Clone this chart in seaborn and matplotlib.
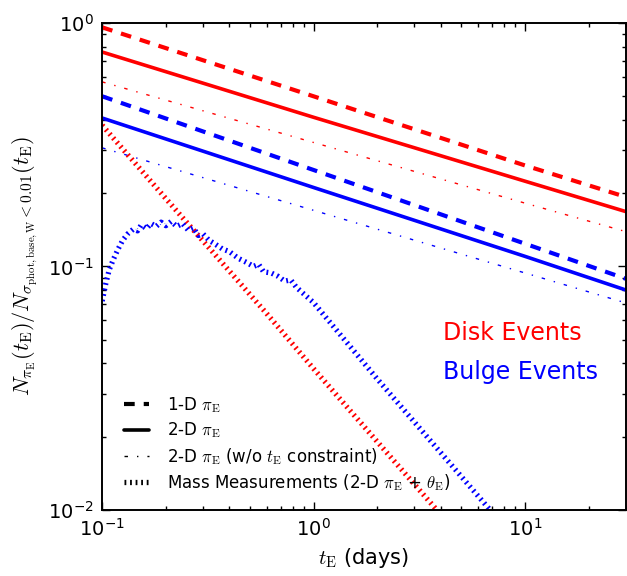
import numpy as np
import pandas as pd
import matplotlib
matplotlib.use('Agg')
import matplotlib.pyplot as plt
import seaborn as sns

# event timescale grid for the straight (power-law) curves, days
t_lines = [0.1, 1.0, 10.0, 30.0]

disk_1d = [0.96, 0.50, 0.26, 0.193]
disk_2d = [0.76, 0.41, 0.224, 0.168]
disk_2d_noprior = [0.573, 0.323, 0.182, 0.139]
bulge_1d = [0.50, 0.249, 0.124, 0.089]
bulge_2d = [0.407, 0.211, 0.11, 0.080]
bulge_2d_noprior = [0.307, 0.17, 0.094, 0.0708]

# mass measurements (2-D pi_E + theta_E)
t_mass_disk = [0.1, 0.2, 0.6, 1.0, 4.5]
mass_disk = [0.38, 0.19, 0.064, 0.038, 0.0085]

t_mass_bulge = [0.100, 0.104, 0.108, 0.113, 0.119, 0.125, 0.132, 0.140, 0.147,
                0.153, 0.162, 0.170, 0.180, 0.190, 0.200, 0.212, 0.225, 0.240,
                0.255, 0.270, 0.285, 0.30, 0.32, 0.34, 0.37, 0.40, 0.44, 0.48,
                0.52, 0.55, 0.58, 0.63, 0.68, 0.73, 0.78, 0.83, 0.90, 1.0,
                2.0, 5.0, 7.5]
mass_bulge = [0.072, 0.085, 0.097, 0.107, 0.118, 0.128, 0.136, 0.142, 0.140,
              0.148, 0.143, 0.150, 0.146, 0.152, 0.147, 0.153, 0.146, 0.150,
              0.141, 0.144, 0.134, 0.136, 0.128, 0.124, 0.118, 0.115, 0.108, 0.104,
              0.100, 0.102, 0.095, 0.094, 0.091, 0.087, 0.088, 0.082, 0.077, 0.071,
              0.0345, 0.0137, 0.0091]

legend_labels = [r'1-D $\pi_{\rm E}$',
                 r'2-D $\pi_{\rm E}$',
                 r'2-D $\pi_{\rm E}$ (w/o $t_{\rm E}$ constraint)',
                 r'Mass Measurements (2-D $\pi_{\rm E}$ + $\theta_{\rm E}$)']

sns.set_style('ticks')
plt.rcParams['font.family'] = ['DejaVu Sans']
plt.rcParams['mathtext.fontset'] = 'cm'
plt.rcParams['axes.unicode_minus'] = False
plt.rcParams['lines.scale_dashes'] = False
plt.rcParams['text.color'] = 'black'
plt.rcParams['axes.labelcolor'] = 'black'
plt.rcParams['xtick.color'] = 'black'
plt.rcParams['ytick.color'] = 'black'

DASHED = (0, (7.7, 6.5))
DASHDOT = (0, (2.5, 6.5, 1.0, 6.5))
DOTTED = (0, (1.3, 2.7))

fig, ax = plt.subplots(figsize=(6.27, 5.76), dpi=100)
fig.subplots_adjust(left=0.163, right=0.998, bottom=0.115, top=0.96)

curves = [
    (t_lines, disk_1d, 'red', DASHED, 3.0),
    (t_lines, disk_2d, 'red', '-', 2.6),
    (t_lines, disk_2d_noprior, 'red', DASHDOT, 1.0),
    (t_lines, bulge_1d, 'blue', DASHED, 3.0),
    (t_lines, bulge_2d, 'blue', '-', 2.6),
    (t_lines, bulge_2d_noprior, 'blue', DASHDOT, 1.0),
    (t_mass_disk, mass_disk, 'red', DOTTED, 3.8),
    (t_mass_bulge, mass_bulge, 'blue', DOTTED, 3.8),
]
for xs, ys, col, ls, lw in curves:
    sns.lineplot(x=xs, y=ys, ax=ax, color=col, linestyle=ls, linewidth=lw,
                 sort=False, estimator=None)

ax.set_xscale('log')
ax.set_yscale('log')
ax.set_xlim(0.1, 30)
ax.set_ylim(0.01, 1.0)

# legend with black handles
handles = []
for ls, lw in [(DASHED, 3.0), ('-', 2.6), (DASHDOT, 1.0), (DOTTED, 3.8)]:
    h, = ax.plot([], [], color='black', linestyle=ls, linewidth=lw)
    handles.append(h)
ax.legend(handles, legend_labels, loc='lower left', frameon=False,
          fontsize=12, handlelength=1.5, labelspacing=0.33,
          borderaxespad=0.6, handletextpad=1.05,
          bbox_to_anchor=(0.01, 0.0))

ax.text(0.651, 0.363, 'Disk Events', color='red', fontsize=17,
        transform=ax.transAxes, va='center')
ax.text(0.651, 0.283, 'Bulge Events', color='blue', fontsize=17,
        transform=ax.transAxes, va='center')

ax.set_xlabel(r'$t_{\rm E}$ (days)', fontsize=15)
ax.set_ylabel(r'$N_{\pi_{\rm E}}(t_{\rm E})/N_{\sigma_{\rm phot,base,W}<0.01}(t_{\rm E})$',
              fontsize=16, labelpad=6)

ax.tick_params(which='both', direction='in', top=True, right=True,
               labelsize=14, color='black', width=1.0)
ax.tick_params(which='major', length=5.5, pad=6)
ax.tick_params(which='minor', length=2.8)
for sp in ax.spines.values():
    sp.set_linewidth(1.4)
    sp.set_color('black')

fig.savefig('out.png', dpi=100)
